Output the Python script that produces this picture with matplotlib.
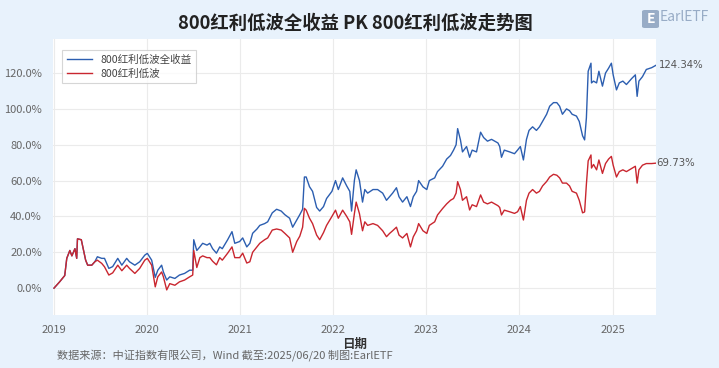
import pandas as pd
import matplotlib
matplotlib.use("Agg")
import matplotlib.pyplot as plt
import matplotlib.dates as mdates
from matplotlib.patches import FancyBboxPatch
from matplotlib.ticker import FuncFormatter

plt.rcParams['font.family'] = ['Noto Sans CJK SC', 'DejaVu Sans']

# values (cumulative return, %)
dates = ["2019-01-02", "2019-01-24", "2019-02-13", "2019-02-21", "2019-03-05", "2019-03-13",
         "2019-03-25", "2019-04-01", "2019-04-04", "2019-04-19", "2019-04-25", "2019-05-06",
         "2019-05-14", "2019-05-30", "2019-06-11", "2019-06-21", "2019-07-08", "2019-07-19",
         "2019-08-05", "2019-08-20", "2019-09-09", "2019-09-25", "2019-10-14", "2019-10-25",
         "2019-11-15", "2019-12-04", "2019-12-24", "2020-01-03", "2020-01-20", "2020-02-03",
         "2020-02-13", "2020-02-28", "2020-03-06", "2020-03-19", "2020-03-31", "2020-04-20",
         "2020-05-08", "2020-05-28", "2020-06-17", "2020-06-29", "2020-07-03", "2020-07-15",
         "2020-07-27", "2020-08-07", "2020-08-24", "2020-09-04", "2020-09-15", "2020-09-30",
         "2020-10-13", "2020-10-23", "2020-11-13", "2020-11-30", "2020-12-11", "2020-12-30",
         "2021-01-11", "2021-01-27", "2021-02-08", "2021-02-19", "2021-03-08", "2021-03-19",
         "2021-04-07", "2021-04-19", "2021-05-07", "2021-05-24", "2021-06-11", "2021-06-25",
         "2021-07-14", "2021-07-26", "2021-08-11", "2021-08-23", "2021-09-03", "2021-09-10",
         "2021-09-17", "2021-09-30", "2021-10-12", "2021-10-28", "2021-11-09", "2021-11-24",
         "2021-12-06", "2021-12-27", "2022-01-10", "2022-01-21", "2022-02-07", "2022-02-23",
         "2022-03-07", "2022-03-14", "2022-03-25", "2022-04-01", "2022-04-14", "2022-04-26",
         "2022-05-05", "2022-05-16", "2022-06-06", "2022-06-24", "2022-07-14", "2022-07-29",
         "2022-08-10", "2022-08-22", "2022-09-06", "2022-09-16", "2022-09-30", "2022-10-17",
         "2022-10-31", "2022-11-11", "2022-11-24", "2022-12-02", "2022-12-19", "2023-01-03",
         "2023-01-13", "2023-02-03", "2023-02-14", "2023-03-06", "2023-03-22", "2023-04-06",
         "2023-04-18", "2023-04-28", "2023-05-04", "2023-05-15", "2023-05-23", "2023-06-08",
         "2023-06-20", "2023-06-30", "2023-07-17", "2023-08-02", "2023-08-14", "2023-08-29",
         "2023-09-14", "2023-10-09", "2023-10-16", "2023-10-23", "2023-11-03", "2023-11-24",
         "2023-12-13", "2023-12-25", "2024-01-05", "2024-01-17", "2024-01-29", "2024-02-08",
         "2024-02-22", "2024-03-08", "2024-03-20", "2024-04-01", "2024-04-17", "2024-04-29",
         "2024-05-14", "2024-05-27", "2024-06-07", "2024-06-18", "2024-07-04", "2024-07-16",
         "2024-07-26", "2024-08-12", "2024-08-23", "2024-09-05", "2024-09-13", "2024-09-20",
         "2024-09-27", "2024-10-08", "2024-10-10", "2024-10-18", "2024-10-30", "2024-11-08",
         "2024-11-22", "2024-12-04", "2024-12-16", "2024-12-27", "2025-01-03", "2025-01-16",
         "2025-01-27", "2025-02-10", "2025-02-24", "2025-03-17", "2025-03-31", "2025-04-07",
         "2025-04-14", "2025-04-28", "2025-05-13", "2025-06-03", "2025-06-20"]

total_return = [0, 3.5, 7, 16.6, 21, 18,
                22, 16.6, 27.5, 27, 23, 15.6,
                12.8, 12.8, 14.7, 17.5, 16.6, 16.6,
                11, 12, 16.6, 12.8, 16.6, 14.7,
                12.8, 14.7, 18.4, 19.4, 15.6, 6,
                10, 12.8, 9, 4.5, 6.3, 5.4,
                7.3, 8.2, 10, 10, 27, 21,
                23, 25, 24, 25, 22, 19.5,
                23, 22, 27, 31.5, 25, 26,
                28, 23, 25, 30.6, 33, 35,
                36, 37, 42, 44, 43, 41,
                39, 34, 38, 41, 44, 62,
                62, 56.6, 54, 45, 43, 45.5,
                50, 54, 60, 55, 61.5, 57,
                54, 43, 60, 66, 60, 48,
                55, 53, 55, 55, 53, 49,
                51, 53, 56, 51, 48, 51,
                45.5, 51, 54, 60, 56.5, 55,
                60, 61.5, 65, 68, 72, 74,
                77, 80, 89, 82.7, 76, 79,
                73, 77, 76, 87, 84, 82,
                83, 81, 79, 73, 77, 76,
                75, 77, 79, 71.5, 83, 88,
                90, 88, 90, 93, 97, 101.5,
                103.5, 103.5, 101.5, 97, 100, 99,
                97, 96, 93, 85, 82.7, 95,
                121, 125.5, 114.5, 115.5, 114.5, 121,
                112.7, 120, 122.7, 125.5, 119, 110.6,
                114.5, 115.5, 113.6, 117, 119, 107,
                115.5, 118, 122, 123, 124.34]

price_return = [0, 3.5, 7, 16.6, 21, 18,
                22, 16.6, 27.5, 27, 23, 15.6,
                12.8, 12.8, 14.7, 15.6, 13.8, 11.9,
                7.3, 8.5, 12.8, 9.7, 12.8, 11,
                8.2, 11, 15.6, 16.6, 12.8, 0.7,
                6.3, 9, 6.3, -1, 2.5, 1.6,
                3.5, 4.5, 6.3, 7.3, 21, 11.5,
                17, 18, 17, 17, 15, 13,
                17, 15.6, 19.5, 23, 17, 17,
                19.5, 14, 14.7, 20, 23, 25,
                27, 28, 32.4, 33, 32.4, 30.6,
                28, 20, 26, 29, 34, 44.5,
                43.5, 39, 36, 29.6, 27, 31,
                35, 40, 43.5, 39, 43.5, 40,
                37, 30, 41.5, 48, 41.5, 32,
                37, 35, 36, 35, 32, 28.7,
                30.5, 32, 34, 29.6, 28, 30.5,
                23, 28.6, 32, 36, 32, 30.5,
                35, 37, 40.8, 44.4, 47, 49,
                50, 53, 59.4, 55, 49, 51,
                43.6, 46.5, 45.5, 52, 48, 47,
                48, 46, 45, 40.8, 43.5, 42.6,
                41.7, 42.6, 45.5, 38, 49, 53,
                55, 53, 54, 57, 59.5, 62,
                63.5, 63, 61.5, 58.6, 58.6, 57,
                54, 53, 49, 42, 42.5, 58,
                71, 74.3, 67, 69, 66, 71.5,
                64, 69.5, 72, 73.5, 68.6, 62,
                65, 66, 65, 66.8, 68, 58.6,
                66, 68.6, 69.5, 69.5, 69.73]

x = pd.to_datetime(dates)
bg = "#e8f2fc"

fig = plt.figure(figsize=(7.19, 3.68), dpi=100, facecolor=bg)
ax = fig.add_axes([53/719, 1-315/368, (656-53)/719, (315-39)/368])
ax.set_facecolor("white")

ax.plot(x, total_return, color="#2c5eb0", lw=1.0, label="800红利低波全收益")
ax.plot(x, price_return, color="#c9262f", lw=1.0, label="800红利低波")

ax.set_xlim(pd.Timestamp("2018-12-29"), pd.Timestamp("2025-06-20"))
ax.set_ylim(-15, 139)
ax.set_yticks([0, 20, 40, 60, 80, 100, 120])
ax.yaxis.set_major_formatter(FuncFormatter(lambda v, p: "%.1f%%" % v))
ax.xaxis.set_major_locator(mdates.YearLocator())
ax.xaxis.set_major_formatter(mdates.DateFormatter("%Y"))
ax.grid(True, color="#ebebeb", lw=0.8)
ax.set_axisbelow(True)
for s in ax.spines.values():
    s.set_visible(False)
ax.tick_params(length=0, labelsize=8, labelcolor="#666666")
ax.tick_params(axis="y", pad=8)
ax.tick_params(axis="x", pad=7)

ax.set_xlabel("日期", fontsize=9, fontweight="bold", color="#333333", labelpad=2)

leg = ax.legend(loc="upper left", fontsize=7.6, frameon=True, fancybox=False,
                borderpad=0.45, handlelength=2.4, labelspacing=0.35,
                bbox_to_anchor=(0.006, 0.98))
leg.get_frame().set_edgecolor("#cccccc")
leg.get_frame().set_linewidth(0.8)
for t in leg.get_texts():
    t.set_color("#444444")

# end-point labels
ax.annotate("%.2f%%" % total_return[-1], (x[-1], total_return[-1]), xytext=(2, 0),
            textcoords="offset points", va="center", ha="left", fontsize=7.3,
            color="#555555", family="DejaVu Sans", annotation_clip=False)
ax.annotate("%.2f%%" % price_return[-1], (x[-1], price_return[-1]), xytext=(0, 0),
            textcoords="offset points", va="center", ha="left", fontsize=7.3,
            color="#555555", family="DejaVu Sans", annotation_clip=False)

fig.text(355/719, 1-23/368, "800红利低波全收益 PK 800红利低波走势图", ha="center", va="center",
         fontsize=13.2, fontweight="bold", color="#222222")

fig.text(57/719, 1-355/368, "数据来源：中证指数有限公司，Wind 截至:2025/06/20 制图:EarlETF",
         ha="left", va="center", fontsize=8, color="#666666")

# logo
logo_c = "#98acc6"
fig.patches.append(FancyBboxPatch((642/719, 1-28/368), 17/719, 18/368,
                                  boxstyle="round,pad=0,rounding_size=0.004",
                                  transform=fig.transFigure, facecolor=logo_c, edgecolor="none"))
fig.text(650.5/719, 1-19/368, "E", ha="center", va="center", fontsize=10,
         fontweight="bold", color="white")
fig.text(660/719, 1-17/368, "EarlETF", ha="left", va="center", fontsize=10, color=logo_c)

fig.savefig("out.png", dpi=100, facecolor=bg)
